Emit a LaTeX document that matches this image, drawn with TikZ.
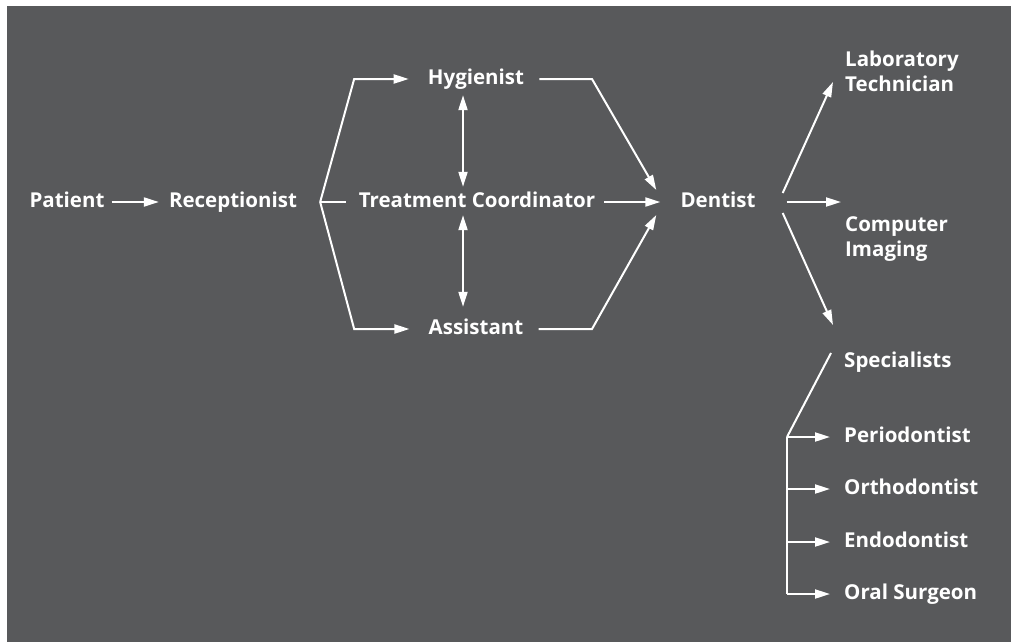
\documentclass[tikz,border=0pt]{standalone}
\usepackage{fontspec}
\setmainfont{Open Sans}[Ligatures=NoCommon]
\usetikzlibrary{arrows.meta,positioning,calc}
\definecolor{slate}{RGB}{88,89,91}

\begin{document}
\begin{tikzpicture}[x=1pt,y=-1pt,
    lbl/.style={text=white,font=\fontsize{20.5}{25}\selectfont\bfseries,inner sep=0pt,
        text height=13.5pt,text depth=2.5pt},
    lbr/.style={lbl,anchor=west,align=left},
    two/.style={text=white,font=\fontsize{20.5}{25}\selectfont\bfseries,inner sep=0pt,
        anchor=west,align=left},
    link/.style={draw=white,line width=2pt},
    arr/.style={link,-{Triangle[length=15pt,width=9pt]}},
    dbl/.style={link,{Triangle[length=15pt,width=9pt]}-{Triangle[length=15pt,width=9pt]}}]

    % background
    \fill[white] (0,0) rectangle (1011,642);
    \fill[slate] (7,6) rectangle (1011,642);

    % main chain
    \node [lbl] (patient) at (67,202) {Patient};
    \node [lbl] (recep) at (233,202) {Receptionist};
    \node [lbl] (hyg) at (476,79) {Hygienist};
    \node [lbl] (coord) at (477,202) {Treatment Coordinator};
    \node [lbl] (assist) at (476,329) {Assistant};
    \node [lbl] (dent) at (718,202) {Dentist};

    % right column
    \node [two] (lab) at (845,71) {Laboratory\\Technician};
    \node [two] (imaging) at (845,239) {Computer\\Imaging};
    \node [lbr] (spec) at (844,362) {Specialists};
    \node [lbr] (perio) at (844,437) {Periodontist};
    \node [lbr] (ortho) at (844,489) {Orthodontist};
    \node [lbr] (endo) at (844,542) {Endodontist};
    \node [lbr] (oral) at (844,594) {Oral Surgeon};

    \coordinate (split) at ($(recep.east)+(23,0)$);
    \coordinate (mid) at (463,0);
    \coordinate (join) at ($(perio.west)+(-57,0)$);

    \draw [arr] ([xshift=7pt]patient.east) -- ([xshift=-10pt]recep.west);
    \draw [arr] (split) -- ($(split)+(34,-123)$) -- ([xshift=-19pt]hyg.west);
    \draw [link] (split) -- ([xshift=-13pt]coord.west);
    \draw [arr] (split) -- ($(split)+(34,127)$) -- ([xshift=-19pt]assist.west);
    \draw [dbl] ([yshift=-8pt]hyg.south -| mid) -- ([yshift=7pt]coord.north -| mid);
    \draw [dbl] ([yshift=-5pt]coord.south -| mid) -- ([yshift=14pt]assist.north -| mid);

    \draw [arr] ([xshift=15pt]hyg.east) -- (592,79) -- ($(dent.west)+(-24,-12)$);
    \draw [arr] ([xshift=9pt]coord.east) -- ([xshift=-20pt]dent.west);
    \draw [arr] ([xshift=15pt]assist.east) -- (592,329) -- ($(dent.west)+(-24,13)$);

    \draw [arr] ($(dent.east)+(27,-9)$) -- ($(lab.west)+(-12,11)$);
    \draw [arr] ([xshift=31pt]dent.east) -- ([xshift=-4pt]imaging.west |- dent);
    \draw [arr] ($(dent.east)+(27,11)$) -- ($(spec.west)+(-11,-37)$);

    \draw [link] ($(spec.west)+(-13,-9)$) -- (join);
    \draw [link] (join) -- (join |- oral);
    \foreach \n in {perio,ortho,endo,oral}
        \draw [arr] (join |- \n) -- ([xshift=-14pt]\n.west);
\end{tikzpicture}
\end{document}
